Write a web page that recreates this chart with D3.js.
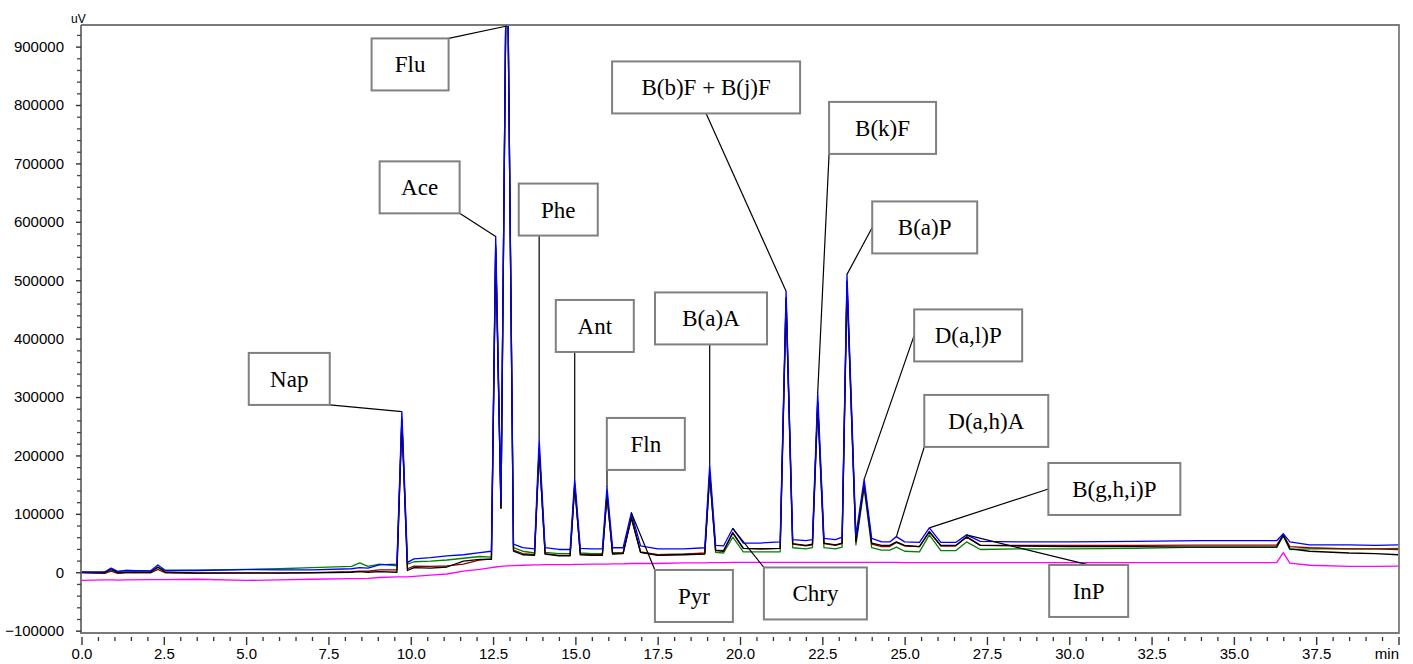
<!DOCTYPE html>
<html>
<head>
<meta charset="utf-8">
<script src="https://cdn.jsdelivr.net/npm/d3@7"></script>
<style>
  body { margin: 0; background: #fff; }
  svg { display: block; }
  .axis text, .unit { font-family: 'Liberation Sans', Arial, sans-serif; fill: #000; }
  .peak-label { font-family: 'Liberation Serif', 'Times New Roman', serif; fill: #000; }
</style>
</head>
<body>
<svg id="chart" width="1413" height="664"></svg>
<script>
// Retention time grid (min), shared by every detector trace
const times = [
  0, 0.7, 0.9, 1.1, 1.35, 2.1, 2.32, 2.55, 3.5, 5.0,
  6.0, 7.0, 8.2, 8.45, 8.7, 9.05, 9.58, 9.73, 9.9, 10.1,
  10.6, 11.1, 11.6, 12.1, 12.45, 12.58, 12.74, 12.92, 13.12, 13.4,
  13.76, 13.9, 14.08, 14.5, 14.84, 14.98, 15.15, 15.5, 15.82, 15.96,
  16.13, 16.45, 16.7, 16.98, 17.5, 18.3, 18.93, 19.08, 19.26, 19.5,
  19.78, 20.1, 20.6, 21.22, 21.4, 21.6, 22.0, 22.2, 22.36, 22.55,
  22.9, 23.1, 23.25, 23.52, 23.77, 24.0, 24.3, 24.55, 24.75, 25.0,
  25.45, 25.75, 26.1, 26.55, 26.88, 27.3, 28.5, 30.0, 32.0, 34.0,
  36.3, 36.5, 36.7, 37.3, 38.5, 39.3, 40.0
];

// Detector response (uV) for each injection
const blueTrace = [
  0, 500, 7000, 1500, 3000, 2500, 12500, 3000, 3000, 4500,
  4000, 4000, 6000, 8000, 7000, 12500, 14000, 275000, 17000, 23000,
  25000, 28000, 30000, 33500, 36000, 575000, 120000, 1150000, 48000, 42000,
  40000, 228000, 42000, 39000, 39000, 160000, 41000, 40000, 40000, 146000,
  42000, 42000, 102000, 45000, 40000, 40000, 42000, 184000, 46000, 45000,
  75000, 50000, 50000, 52000, 481000, 56000, 54000, 56000, 307000, 58000,
  56000, 60000, 510000, 63000, 159000, 58000, 52000, 52000, 61000, 52000,
  51000, 76000, 51000, 51000, 64000, 53000, 52000, 52000, 53000, 54000,
  54000, 66000, 52000, 47000, 47000, 46000, 47000
];
const blackTrace = [
  0, -1000, 6000, -1000, 0, 0, 9000, 0, -1000, -1000,
  -1500, -1000, 0, 1000, 0, 1000, 0, 262000, 3000, 8000,
  7000, 9000, 19000, 22000, 22000, 560000, 110000, 1150000, 36000, 30000,
  29000, 212000, 31000, 28000, 28000, 151000, 30000, 29000, 29000, 136000,
  31000, 32000, 95000, 34000, 29000, 30000, 31000, 171000, 37000, 36000,
  68000, 41000, 40000, 41000, 470000, 49000, 46000, 48000, 292000, 50000,
  47000, 50000, 498000, 53000, 152000, 50000, 46000, 46000, 52000, 46000,
  44000, 69000, 46000, 46000, 61000, 46000, 45000, 44000, 44000, 43000,
  43000, 64000, 40000, 36000, 33000, 32000, 30000
];
const redTrace = [
  -1000, -2000, 2000, -2000, -1000, -1000, 5000, -1000, -2000, -1500,
  -1000, -500, 1000, 2000, 2000, 4000, 4000, 258000, 6000, 10500,
  10000, 11000, 14000, 21000, 23000, 555000, 110000, 1150000, 38000, 32000,
  30000, 210000, 32000, 29000, 29000, 148000, 31000, 30000, 30000, 133000,
  32000, 33000, 93000, 35000, 30000, 31000, 33000, 168000, 38000, 37000,
  67000, 41000, 40000, 41000, 468000, 48000, 45000, 47000, 290000, 49000,
  46000, 49000, 495000, 52000, 150000, 48000, 44000, 44000, 51000, 45000,
  44000, 70000, 45000, 45000, 60000, 46000, 46000, 46000, 46000, 46500,
  46500, 64000, 44000, 42000, 40000, 40000, 39000
];
const greenTrace = [
  0, 500, 3000, 1000, 3000, 2000, 8000, 3000, 3500, 5000,
  6000, 8000, 10000, 16000, 10000, 14000, 11000, 262000, 14000, 18000,
  19000, 21000, 24000, 27000, 26000, 550000, 110000, 1150000, 42000, 36000,
  33000, 205000, 34000, 32000, 32000, 145000, 33000, 32000, 32000, 128000,
  34000, 33000, 92000, 34000, 30000, 31000, 32000, 165000, 34000, 33000,
  60000, 35000, 35000, 35000, 462000, 42000, 40000, 42000, 282000, 42000,
  40000, 43000, 488000, 47000, 144000, 42000, 38000, 38000, 43000, 36000,
  35000, 64000, 37000, 37000, 52000, 39000, 40000, 40000, 41000, 43000,
  43000, 62000, 39000, 40000, 40000, 40000, 41000
];
const magentaTrace = [
  -14000, -13000, -13000, -13500, -13000, -12500, -12500, -12500, -12000, -14000,
  -13000, -12000, -11000, -11000, -10500, -9000, -8000, -8000, -8000, -7000,
  -5000, -3000, 2000, 5000, 8000, 9000, 10000, 11000, 11500, 12000,
  12500, 12500, 13000, 13000, 13000, 13500, 13500, 14000, 14000, 14000,
  14500, 14500, 15000, 15000, 15000, 16000, 16000, 16500, 16500, 16500,
  17000, 17000, 17000, 17000, 17000, 17000, 17000, 17000, 17000, 17000,
  17000, 17000, 17000, 17000, 17000, 17000, 17000, 17000, 17000, 16500,
  16500, 16500, 16500, 16500, 16500, 16500, 16500, 16500, 16500, 16500,
  16500, 33500, 15500, 12000, 10000, 10000, 10500
];

// Identified compounds and their retention times (min)
const peakNames = ["Nap", "Ace", "Flu", "Phe", "Ant", "Fln", "Pyr", "B(a)A", "Chry",
  "B(b)F + B(j)F", "B(k)F", "B(a)P", "D(a,l)P", "D(a,h)A", "B(g,h,i)P", "InP"];
const peakTimes = [9.73, 12.58, 12.92, 13.9, 14.98, 15.96, 16.7, 19.08, 19.78,
  21.4, 22.36, 23.25, 23.77, 24.75, 25.75, 26.88];

// Axis ticks
const yTicks = [-100000, 0, 100000, 200000, 300000, 400000, 500000, 600000, 700000, 800000, 900000];
const xTicks = [0, 2.5, 5, 7.5, 10, 12.5, 15, 17.5, 20, 22.5, 25, 27.5, 30, 32.5, 35, 37.5];
const xLabels = ["0.0", "2.5", "5.0", "7.5", "10.0", "12.5", "15.0", "17.5", "20.0", "22.5",
  "25.0", "27.5", "30.0", "32.5", "35.0", "37.5"];

// ---- layout ----
const plot = { left: 81, right: 1399, top: 25, bottom: 633 };
const x = d3.scaleLinear().domain([0, 40]).range([81.5, 1398.5]);
const y = d3.scaleLinear().domain([-104000, 937000]).range([plot.bottom, plot.top]);

// Annotation boxes: centre in (min, uV), box width in px, where the leader leaves the box
const labelLayout = [
  { t: 6.31,  v: 331000,  w: 81,  at: "br" },
  { t: 10.27, v: 659000,  w: 80,  at: "br" },
  { t: 9.98,  v: 869500,  w: 77,  at: "tr" },
  { t: 14.48, v: 621000,  w: 79,  at: "bPeak" },
  { t: 15.59, v: 421700,  w: 78,  at: "bPeak" },
  { t: 17.14, v: 219700,  w: 78,  at: "bPeak" },
  { t: 18.6,  v: -40600,  w: 78,  at: "tl" },
  { t: 19.12, v: 434600,  w: 112, at: "bPeak" },
  { t: 22.29, v: -36300,  w: 103, at: "tl" },
  { t: 18.97, v: 830100,  w: 188, at: "bc" },
  { t: 24.33, v: 760800,  w: 107, at: "bl" },
  { t: 25.61, v: 590400,  w: 105, at: "ml" },
  { t: 26.93, v: 405500,  w: 108, at: "ml" },
  { t: 27.48, v: 259100,  w: 124, at: "bl" },
  { t: 31.37, v: 142600,  w: 132, at: "ml" },
  { t: 30.59, v: -32000,  w: 79,  at: "tc" }
];
const boxH = 52;

const traces = [
  { values: magentaTrace, color: "#ff00ff" },
  { values: greenTrace,   color: "#008000" },
  { values: redTrace,     color: "#8b0000" },
  { values: blackTrace,   color: "#000000" },
  { values: blueTrace,    color: "#0000ff" }
];

const svg = d3.select("#chart");

svg.append("defs").append("clipPath").attr("id", "plotClip")
  .append("rect")
  .attr("x", plot.left).attr("y", plot.top)
  .attr("width", plot.right - plot.left).attr("height", plot.bottom - plot.top);

// Traces
const line = d3.line()
  .x((d, i) => x(times[i]))
  .y(d => y(d));

svg.append("g").attr("clip-path", "url(#plotClip)")
  .selectAll("path").data(traces).join("path")
  .attr("d", d => line(d.values))
  .attr("fill", "none")
  .attr("stroke", d => d.color)
  .attr("stroke-width", 1.3)
  .attr("stroke-linejoin", "round");

// Frame (top, right, bottom)
svg.append("path")
  .attr("d", `M${plot.left},${plot.top}H${plot.right}V${plot.bottom}H${plot.left}`)
  .attr("fill", "none").attr("stroke", "#7a7a7a").attr("stroke-width", 1.8);

// Y axis
svg.append("line")
  .attr("x1", plot.left).attr("x2", plot.left)
  .attr("y1", plot.top).attr("y2", plot.bottom + 1)
  .attr("stroke", "#6a6a6a").attr("stroke-width", 1.8);

const yMinor = d3.range(-100000, 937000, 20000).filter(v => !yTicks.includes(v));
svg.append("g").attr("transform", `translate(${plot.left},0)`)
  .call(d3.axisLeft(y).tickValues(yMinor).tickSize(4).tickFormat(""))
  .call(g => g.select(".domain").remove())
  .selectAll("line").attr("stroke", "#444").attr("stroke-width", 1.3);

const yAxis = svg.append("g").attr("class", "axis")
  .attr("transform", `translate(${plot.left},0)`)
  .call(d3.axisLeft(y).tickValues(yTicks).tickSize(5).tickPadding(12).tickFormat(d3.format("d")));
yAxis.select(".domain").remove();
yAxis.attr("font-size", null).attr("font-family", null);
yAxis.selectAll("line").attr("stroke", "#333").attr("stroke-width", 1.4);
yAxis.selectAll("text").style("font-size", "15px");

svg.append("text").attr("class", "unit").text("uV")
  .attr("x", 71).attr("y", 23)
  .style("font-size", "12px");

// X axis (ticks sit slightly below the frame line)
const xMinor = d3.range(0.5, 40, 0.5).filter(v => !xTicks.includes(v));
svg.append("g").attr("transform", `translate(0,${plot.bottom + 4})`)
  .call(d3.axisBottom(x).tickValues(xMinor).tickSize(4).tickFormat(""))
  .call(g => g.select(".domain").remove())
  .selectAll("line").attr("stroke", "#333").attr("stroke-width", 1.3);

const xAxis = svg.append("g").attr("class", "axis")
  .attr("transform", `translate(0,${plot.bottom + 4})`)
  .call(d3.axisBottom(x).tickValues(xTicks.concat([40])).tickSize(8).tickPadding(3)
    .tickFormat(v => { const i = xTicks.indexOf(v); return i >= 0 ? xLabels[i] : ""; }));
xAxis.select(".domain").remove();
xAxis.attr("font-size", null).attr("font-family", null);
xAxis.selectAll("line").attr("stroke", "#333").attr("stroke-width", 1.4);
xAxis.selectAll("text").style("font-size", "15px");

svg.append("text").attr("class", "unit").text("min")
  .attr("x", plot.right).attr("y", 659)
  .attr("text-anchor", "end")
  .style("font-size", "15px");

// Peak annotations
const allTraces = [blueTrace, blackTrace, redTrace, greenTrace];
const labels = peakNames.map((name, k) => {
  const idx = times.indexOf(peakTimes[k]);
  const apex = d3.max(allTraces, s => s[idx]);
  const px = x(peakTimes[k]);
  const py = Math.max(y(apex), plot.top + 1);
  const L = labelLayout[k];
  const cx = x(L.t), cy = y(L.v);
  const bx = cx - L.w / 2, by = cy - boxH / 2;
  const anchors = {
    br: [bx + L.w, by + boxH], tr: [bx + L.w, by], tl: [bx, by], bl: [bx, by + boxH],
    bc: [cx, by + boxH], tc: [cx, by], ml: [bx, cy], bPeak: [px, by + boxH]
  };
  return { name, px, py, cx, cy, bx, by, w: L.w, a: anchors[L.at] };
});

svg.append("g").selectAll("line").data(labels).join("line")
  .attr("x1", d => d.a[0]).attr("y1", d => d.a[1])
  .attr("x2", d => d.px).attr("y2", d => d.py)
  .attr("stroke", "#000").attr("stroke-width", 1.2);

const box = svg.append("g").selectAll("g").data(labels).join("g");
box.append("rect")
  .attr("x", d => d.bx).attr("y", d => d.by)
  .attr("width", d => d.w).attr("height", boxH)
  .attr("fill", "#fff").attr("stroke", "#808080").attr("stroke-width", 2);
box.append("text").attr("class", "peak-label")
  .attr("x", d => d.cx).attr("y", d => d.cy + 8)
  .attr("text-anchor", "middle")
  .style("font-size", "23px")
  .text(d => d.name);
</script>
</body>
</html>
